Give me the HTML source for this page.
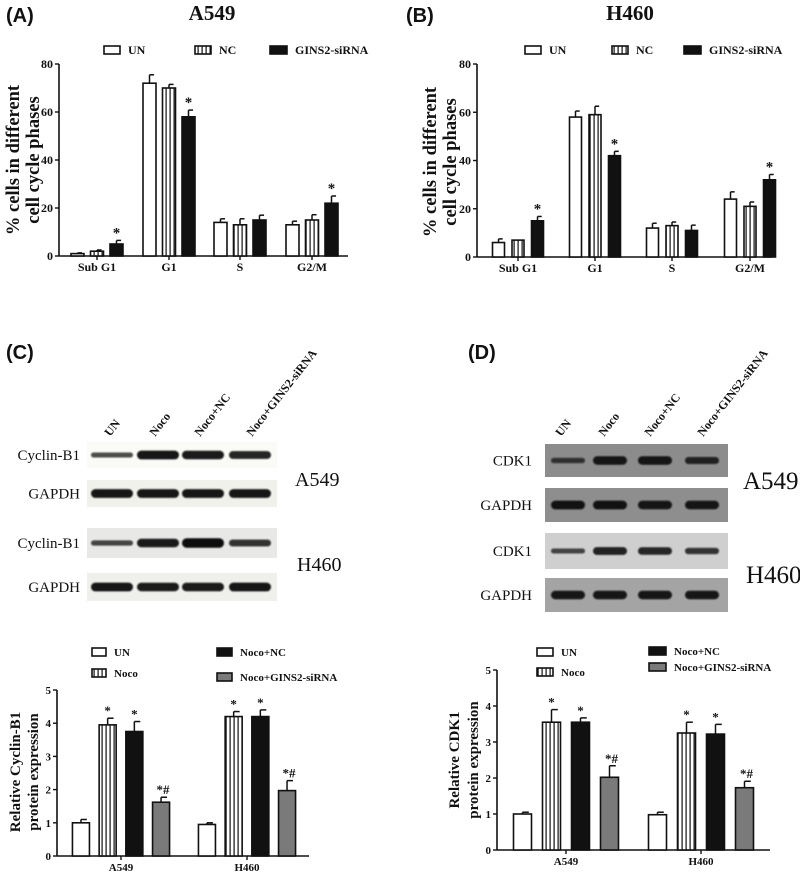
<!DOCTYPE html>
<html><head><meta charset="utf-8"><style>
html,body{margin:0;padding:0;background:#fff;}
svg{display:block;}
text{font-family:"Liberation Serif",serif;font-weight:bold;fill:#111;}
text.norm{font-weight:normal;}
.sans{font-family:"Liberation Sans",sans-serif;}
</style></head><body>
<svg id="fig" width="800" height="872" viewBox="0 0 800 872" xmlns="http://www.w3.org/2000/svg">
<defs>
<pattern id="stripes" width="4" height="10" patternUnits="userSpaceOnUse">
<rect width="4" height="10" fill="#fff"/><rect x="1.5" width="1.2" height="10" fill="#111"/>
</pattern>
<filter id="blur" x="-20%" y="-100%" width="140%" height="300%"><feGaussianBlur stdDeviation="0.9"/></filter>
</defs>
<text x="6" y="22" font-size="20" class="sans">(A)</text>
<text x="212" y="20" font-size="21" text-anchor="middle">A549</text>
<text x="406" y="22" font-size="20" class="sans">(B)</text>
<text x="630" y="20" font-size="21" text-anchor="middle">H460</text>
<text x="6" y="359" font-size="20" class="sans">(C)</text>
<text x="468" y="359" font-size="20" class="sans">(D)</text>
<g id="layer"></g>
</svg>
<script>
// ---- Panel A data ----
const phaseCats = ["Sub G1","G1","S","G2/M"];
const aUN = [1,72,14,13];
const aNC = [2,70,13,15];
const aSi = [5,58,15,22];
const aUNerr = [0.3,3.5,1.5,1.5];
const aNCerr = [0.5,1.5,2.5,2.2];
const aSierr = [1.5,2.8,2,3];
// ---- Panel B data ----
const bUN = [6,58,12,24];
const bNC = [7,59,13,21];
const bSi = [15,42,11,32];
const bUNerr = [1.5,2.5,2,3];
const bNCerr = [0,3.5,1.5,1.8];
const bSierr = [1.8,1.8,2.2,2.2];
const phaseTicks = [0,20,40,60,80];
const phaseSigSi = ["*","*","","*"];
// ---- Panel C data ----
const cellCats = ["A549","H460"];
const cUN = [1.0,0.95];
const cNoco = [3.95,4.2];
const cNC = [3.75,4.2];
const cSi = [1.62,1.97];
const cUNerr = [0.1,0.05];
const cNocoerr = [0.2,0.15];
const cNCerr = [0.3,0.2];
const cSierr = [0.15,0.3];
// ---- Panel D data ----
const dUN = [1.0,0.98];
const dNoco = [3.55,3.25];
const dNC = [3.55,3.22];
const dSi = [2.02,1.73];
const dUNerr = [0.05,0.07];
const dNocoerr = [0.35,0.3];
const dNCerr = [0.12,0.27];
const dSierr = [0.32,0.18];
const protTicks = [0,1,2,3,4,5];
// ---- Blot band intensities (0-1) ----
const lanes = ["UN","Noco","Noco+NC","Noco+GINS2-siRNA"];
const cCycA = [0.35,0.9,0.85,0.75];
const cGapA = [0.9,0.9,0.9,0.9];
const cCycH = [0.4,0.85,1.0,0.6];
const cGapH = [0.9,0.85,0.85,0.9];
const dCdkA = [0.4,0.85,0.85,0.65];
const dGapA = [0.9,0.9,0.85,0.85];
const dCdkH = [0.35,0.75,0.7,0.55];
const dGapH = [0.85,0.85,0.85,0.85];

const NS="http://www.w3.org/2000/svg";
const layer=document.getElementById('layer');
function mk(tag,attrs,parent){const e=document.createElementNS(NS,tag);for(const k in attrs)e.setAttribute(k,attrs[k]);(parent||layer).appendChild(e);return e;}
function txt(x,y,s,size,anchor,parent){const t=mk('text',{x:x,y:y,'font-size':size,'text-anchor':anchor||'start'},parent);t.textContent=s;return t;}

function chart(cfg){
  const g=mk('g',{});
  
  
  const ymax=cfg.ticks[cfg.ticks.length-1];
  const yS=v=>cfg.y0-(v/ymax)*(cfg.y0-cfg.yTop);
  const ax=mk('line',{x1:cfg.x0,y1:cfg.yTop,x2:cfg.x0,y2:cfg.y0+0.5,stroke:'#111','stroke-width':1.6},g);
  
  
  const bx=mk('line',{x1:cfg.x0,y1:cfg.y0,x2:cfg.xEnd,y2:cfg.y0,stroke:'#111','stroke-width':1.6},g);
  
  
  cfg.ticks.forEach(t=>{
    const y=yS(t);
    mk('line',{x1:cfg.x0-4,y1:y,x2:cfg.x0,y2:y,stroke:'#111','stroke-width':1.4},g);
    const tl=txt(cfg.x0-6,y+4,String(t),cfg.tickSize,'end',g);
    
    
  });
  cfg.cats.forEach((c,i)=>{
    const cx=cfg.centers[i];
    mk('line',{x1:cx,y1:cfg.y0,x2:cx,y2:cfg.y0+4,stroke:'#111','stroke-width':1.4},g);
    const l=txt(cx,cfg.y0+15,c,cfg.tickSize,'middle',g);
    
    
    const n=cfg.series.length;
    cfg.series.forEach((s,j)=>{
      const x=cx+(j-(n-1)/2)*cfg.step-cfg.bw/2;
      const v=s.vals[i], e=s.errs[i];
      const top=yS(v);
      if(e>0){
        const ey=yS(v+e);
        mk('line',{x1:x+cfg.bw/2,y1:top,x2:x+cfg.bw/2,y2:ey,stroke:'#111','stroke-width':1.5},g);
        mk('line',{x1:x+cfg.bw/2,y1:ey,x2:x+cfg.bw*0.85,y2:ey,stroke:'#111','stroke-width':1.5},g);
      }
      const r=mk('rect',{x:x,y:top,width:cfg.bw,height:cfg.y0-top,fill:s.fill,stroke:'#111','stroke-width':1.6},g);
      
      
      const sig=s.sig?s.sig[i]:'';
      if(sig){
        const st=txt(x+cfg.bw/2+(sig.length>1?2:0),yS(v+e)-3,sig,cfg.sigSize,'middle',g);
        
        
      }
    });
  });
  const yt=mk('text',{transform:`translate(${cfg.ytX},${cfg.ytY}) rotate(-90)`,'font-size':cfg.ytSize,'text-anchor':'middle'},g);
  
  
  cfg.ytLines.forEach((line,k)=>{const ts=mk('tspan',{x:0,dy:k==0?0:cfg.ytGap},yt);ts.textContent=line;});
  cfg.legend.forEach(le=>{
    const lg=mk('g',{},g);
    
    
    mk('rect',{x:le.x,y:le.y-4,width:le.w,height:8,fill:le.fill,stroke:'#111','stroke-width':1.6},lg);
    txt(le.x+le.w+8,le.y+4,le.label,cfg.legSize,'start',lg);
  });
}
function mkSeries(keys,vals,errs,fills,sigs){return keys.map((k,i)=>({key:k,vals:vals[i],errs:errs[i],fill:fills[i],sig:sigs?sigs[i]:null}));}
const sigNone=["","","",""];
chart({name:'panel-a-chart',x0:59,y0:256,yTop:64,xEnd:348,ticks:phaseTicks,cats:phaseCats,centers:[97,169,240,312],step:19.5,bw:13,
 series:mkSeries(['un','nc','gins2'],[aUN,aNC,aSi],[aUNerr,aNCerr,aSierr],['#fff','url(#stripes)','#111'],[sigNone,sigNone,phaseSigSi]),
 tickSize:12,sigSize:15,ytX:19,ytY:160,ytSize:18.5,ytGap:20,ytLines:['% cells in different','cell cycle phases'],legSize:12,
 legend:[{x:104,y:50,w:16,fill:'#fff',label:'UN'},{x:195,y:50,w:16,fill:'url(#stripes)',label:'NC'},{x:270,y:50,w:17,fill:'#111',label:'GINS2-siRNA'}]});
chart({name:'panel-b-chart',x0:477,y0:257,yTop:64,xEnd:772,ticks:phaseTicks,cats:phaseCats,centers:[518,595,672,750],step:19.5,bw:12,
 series:mkSeries(['un','nc','gins2'],[bUN,bNC,bSi],[bUNerr,bNCerr,bSierr],['#fff','url(#stripes)','#111'],[sigNone,sigNone,phaseSigSi]),
 tickSize:12,sigSize:15,ytX:436,ytY:162,ytSize:18.5,ytGap:20,ytLines:['% cells in different','cell cycle phases'],legSize:12,
 legend:[{x:525,y:50,w:16,fill:'#fff',label:'UN'},{x:612,y:50,w:16,fill:'url(#stripes)',label:'NC'},{x:684,y:50,w:17,fill:'#111',label:'GINS2-siRNA'}]});
chart({name:'panel-c-chart',x0:57,y0:856,yTop:690,xEnd:309,ticks:protTicks,cats:cellCats,centers:[121,247],step:26.7,bw:17,
 series:mkSeries(['un','noco','noco-nc','noco-gins2'],[cUN,cNoco,cNC,cSi],[cUNerr,cNocoerr,cNCerr,cSierr],['#fff','url(#stripes)','#111','#7a7a7a'],[["",""],["*","*"],["*","*"],["*#","*#"]]),
 tickSize:11,sigSize:13,ytX:20,ytY:772,ytSize:15,ytGap:18,ytLines:['Relative Cyclin-B1','protein expression'],legSize:11,
 legend:[{x:92,y:652,w:14,fill:'#fff',label:'UN'},{x:92,y:673,w:14,fill:'url(#stripes)',label:'Noco'},{x:217,y:652,w:15,fill:'#111',label:'Noco+NC'},{x:217,y:677,w:15,fill:'#7a7a7a',label:'Noco+GINS2-siRNA'}]});
chart({name:'panel-d-chart',x0:497,y0:850,yTop:670,xEnd:770,ticks:protTicks,cats:cellCats,centers:[566,701],step:29,bw:18,
 series:mkSeries(['un','noco','noco-nc','noco-gins2'],[dUN,dNoco,dNC,dSi],[dUNerr,dNocoerr,dNCerr,dSierr],['#fff','url(#stripes)','#111','#7a7a7a'],[["",""],["*","*"],["*","*"],["*#","*#"]]),
 tickSize:11,sigSize:13,ytX:459,ytY:760,ytSize:15,ytGap:19,ytLines:['Relative CDK1','protein expression'],legSize:11,
 legend:[{x:537,y:652,w:16,fill:'#fff',label:'UN'},{x:537,y:672,w:16,fill:'url(#stripes)',label:'Noco'},{x:649,y:651,w:17,fill:'#111',label:'Noco+NC'},{x:649,y:667,w:17,fill:'#7a7a7a',label:'Noco+GINS2-siRNA'}]});

function blot(cfg){
  const g=mk('g',{});
  
  
  cfg.rows.forEach(r=>{
    const rg=mk('g',{},g);
    
    
    mk('rect',{x:cfg.x,y:r.y,width:cfg.w,height:r.h,fill:r.bg},rg);
    r.vals.forEach((v,i)=>{
      const cx=cfg.centers[i];
      const bh=2.5+v*7;
      mk('rect',{x:cx-cfg.bandW/2,y:r.y+r.h/2-bh/2,width:cfg.bandW,height:bh,rx:bh/2,fill:'#0a0a0a','fill-opacity':0.6+0.4*v,filter:'url(#blur)'},rg);
    });
    const l=txt(cfg.labelX,r.y+r.h/2+5,r.label,cfg.labelSize,'end',rg);
    l.setAttribute('class','norm');
  });
  cfg.lanes.forEach((ln,i)=>{
    const t=mk('text',{transform:`translate(${cfg.laneX[i]},${cfg.laneY}) rotate(-52)`,'font-size':12},g);
    t.textContent=ln;
    
    
  });
  cfg.cells.forEach(c=>{const t=txt(c.x,c.y,c.label,cfg.cellSize,'start',g);t.setAttribute('class','norm');});
}
blot({name:'panel-c-blot',x:87,w:190,centers:[112,158,203,250],bandW:42,labelX:80,labelSize:15,cellSize:20,
 rows:[{label:'Cyclin-B1',y:442,h:26,bg:'#fafaf7',vals:cCycA},{label:'GAPDH',y:480,h:27,bg:'#f1f1ec',vals:cGapA},
       {label:'Cyclin-B1',y:528,h:30,bg:'#e8e8e6',vals:cCycH},{label:'GAPDH',y:573,h:28,bg:'#efefec',vals:cGapH}],
 lanes:lanes,laneX:[110,155,200,252],laneY:437,
 cells:[{x:295,y:486,label:'A549'},{x:297,y:571,label:'H460'}]});
blot({name:'panel-d-blot',x:545,w:183,centers:[568,610,655,702],bandW:34,labelX:532,labelSize:15,cellSize:25,
 rows:[{label:'CDK1',y:444,h:33,bg:'#8c8c8c',vals:dCdkA},{label:'GAPDH',y:488,h:34,bg:'#8e8e8e',vals:dGapA},
       {label:'CDK1',y:533,h:36,bg:'#cfcfcf',vals:dCdkH},{label:'GAPDH',y:578,h:34,bg:'#a4a4a4',vals:dGapH}],
 lanes:lanes,laneX:[561,604,650,703],laneY:437,
 cells:[{x:743,y:489,label:'A549'},{x:746,y:583,label:'H460'}]});
</script>
</body></html>
